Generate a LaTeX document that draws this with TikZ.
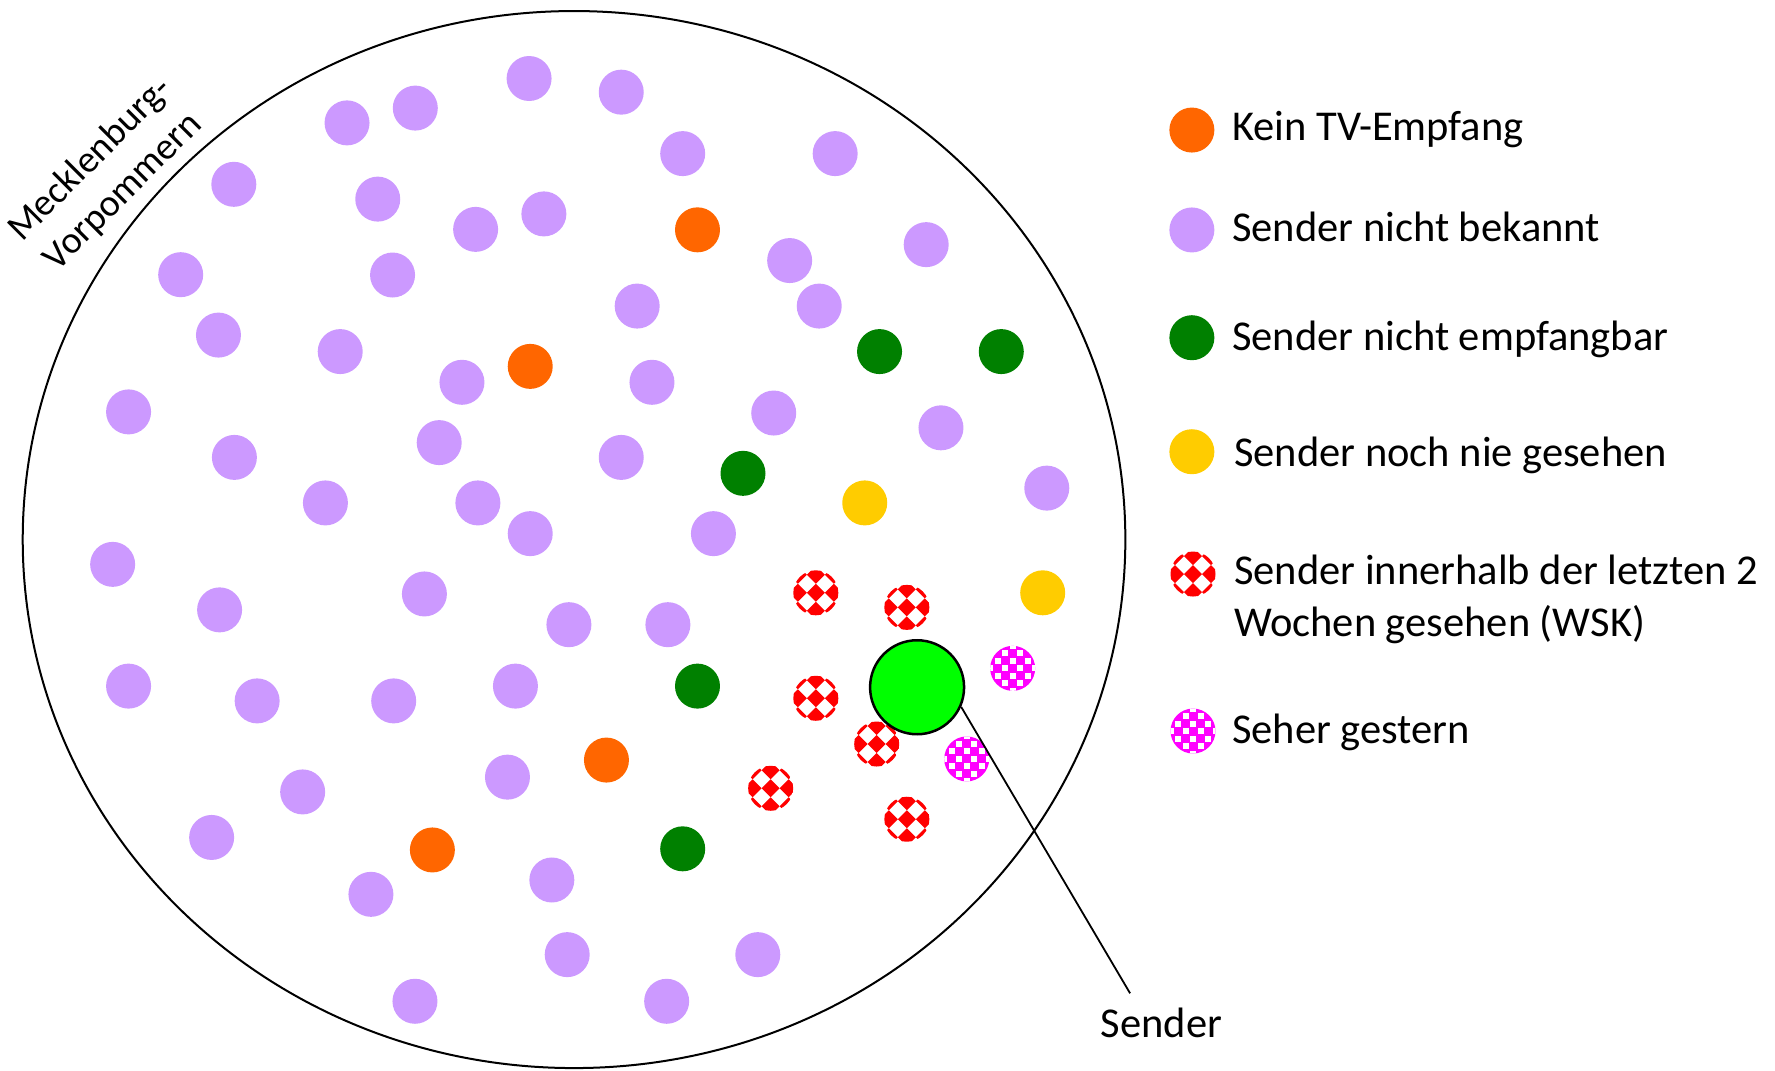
\documentclass[tikz,border=0pt]{standalone}
\usepackage{fontspec}
\setmainfont{Carlito}
\usetikzlibrary{shapes.geometric,calc}
\definecolor{lav}{HTML}{CC99FF}
\definecolor{orng}{HTML}{FF6600}
\definecolor{dkgrn}{HTML}{008000}
\definecolor{yel}{HTML}{FFCC00}
\definecolor{brightgrn}{HTML}{00FF00}
\definecolor{mag}{HTML}{FF00FF}
\begin{document}
\begin{tikzpicture}[x=1.1378pt,y=-1.1378pt,
  dot/.style={circle,minimum size=45pt,inner sep=0pt,draw=none},
  pdot/.style={dot,fill=lav},
  odot/.style={dot,fill=orng},
  gdot/.style={dot,fill=dkgrn},
  ydot/.style={dot,fill=yel},
  rdot/.style={dot,fill=white,path picture={
      \foreach \i in {-2,...,2}{\foreach \j in {-2,...,2}{
        \fill[red] ($(path picture bounding box.center)+(\i*18pt,\j*18pt)$)
          +(9pt,0pt) -- +(0pt,9pt) -- +(-9pt,0pt) -- +(0pt,-9pt) -- cycle;}}}},
  mdot/.style={dot,fill=mag,path picture={
      \foreach \i in {-4,...,4}{\foreach \j in {-4,...,4}{
        \pgfmathtruncatemacro\mpar{mod(\i+\j+20,2)}
        \ifnum\mpar=1
          \fill[white] ($(path picture bounding box.center)+(\i*7.5pt,\j*7.5pt)$)
            +(-3pt,-3pt) rectangle +(3pt,3pt);
        \fi}}}},
  legtext/.style={anchor=base west,inner sep=0pt,font=\fontsize{42.5}{50}\selectfont},
  statelabel/.style={anchor=center,inner sep=0pt,rotate=45,align=center,font=\fontsize{38}{46}\selectfont},
  conn/.style={draw=black,line width=1.8pt}
]
\useasboundingbox (0,0) rectangle (1560,940.4);

% region outline
\node[draw=black,line width=2pt,ellipse,minimum width=1102.6pt,minimum height=1057pt,inner sep=0pt] (region) at (504.5,474.2) {};

\node[statelabel] (statelab) at (94,154.5) {Mecklenburg-\\Vorpommern};

% purple dots
\foreach \x/\y [count=\k] in {
  465/69, 546/81, 305/108, 365/95, 600/135, 734/135, 205.5/162, 332/175,
  418/201.6, 478/188, 694/229, 814/215, 158.8/241.4, 345/241.7, 560/269, 720/269,
  192/294.5, 299/309, 406/336, 573/336, 680/363, 113/362, 827/376, 386/389,
  206/402, 546/402, 286/442, 420/442, 466/469, 627/469, 920/429, 99/496,
  193/536, 373/522, 500/549, 587/549, 113/603, 226/616, 346/616, 453/603,
  266/696, 446/683, 186/736, 326/786, 485/773.4, 498.5/839, 666/839, 364.7/880,
  585.9/880}
  \node[pdot] (p\k) at (\x,\y) {};

% orange dots
\foreach \x/\y [count=\k] in {613/202, 466/322, 533/668, 380/747}
  \node[odot] (o\k) at (\x,\y) {};

% dark green dots
\foreach \x/\y [count=\k] in {773/309, 880/309, 653/416, 613/603, 600/746}
  \node[gdot] (g\k) at (\x,\y) {};

% yellow dots
\node[ydot] (y1) at (760,442) {};
\node[ydot] (y2) at (916.4,521) {};

% red checkered
\foreach \x/\y [count=\k] in {717/521, 797/533.8, 717/613.7, 770.5/653.9, 677.3/692.8, 797/720}
  \node[rdot] (r\k) at (\x,\y) {};

% magenta checkered
\node[mdot] (m1) at (890,587.4) {};
\node[mdot] (m2) at (849.6,667) {};

% sender
\node[circle,draw=black,line width=2.5pt,fill=brightgrn,minimum size=94pt,inner sep=0pt] (sender) at (806,604) {};
\coordinate (tip) at (993.2,873);
\draw[conn] (sender.-24) -- (tip);
\node[legtext] (senderlabel) at (967.2,911.4) {Sender};

% legend
\node[odot] (l1) at (1047.5,114.3) {};
\node[pdot] (l2) at (1047.5,202.1) {};
\node[gdot] (l3) at (1047.5,296.8) {};
\node[ydot] (l4) at (1047.5,397) {};
\node[rdot] (l5) at (1048.5,504.5) {};
\node[mdot] (l6) at (1048.5,642.5) {};

\node[legtext] (t1) at (1082.8,123.9) {Kein TV-Empfang};
\node[legtext] (t2) at (1082.8,212.4) {Sender nicht bekannt};
\node[legtext] (t3) at (1082.8,308.2) {Sender nicht empfangbar};
\node[legtext] (t4) at (1084.5,410.2) {Sender noch nie gesehen};
\node[legtext] (t5a) at (1084.5,513.5) {Sender innerhalb der letzten 2};
\node[legtext] (t5b) at (1084.5,559.6) {Wochen gesehen (WSK)};
\node[legtext] (t6) at (1082.8,653.3) {Seher gestern};
\end{tikzpicture}
\end{document}
